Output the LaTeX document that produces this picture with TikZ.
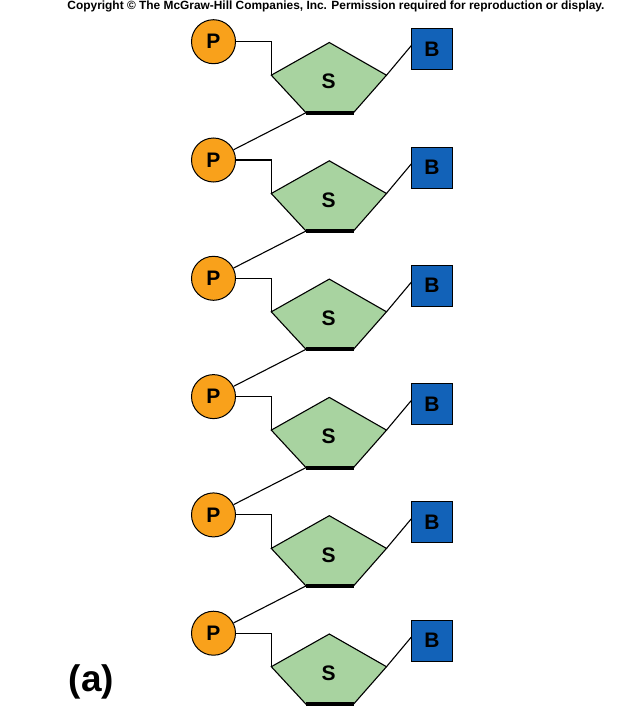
\documentclass[tikz,border=0pt]{standalone}
\usepackage{fontspec}
\setmainfont{Liberation Sans}
\usepackage{graphicx}
\definecolor{porange}{HTML}{F9A11B}
\definecolor{sgreen}{HTML}{A8D3A0}
\definecolor{bblue}{HTML}{1262B8}
\begin{document}
\begin{tikzpicture}[x=1pt,y=-1pt,
  phos/.style={circle,draw=black,line width=1pt,fill=porange,minimum size=44pt,inner sep=0pt,font=\fontsize{21}{21}\selectfont\bfseries},
  base/.style={rectangle,draw=black,line width=0.6pt,fill=bblue,minimum size=41pt,inner sep=0pt,font=\fontsize{21}{21}\selectfont\bfseries},
  sugartext/.style={inner sep=0pt,font=\fontsize{21}{21}\selectfont\bfseries},
  link/.style={line width=1.1pt,black},
  sugaredge/.style={draw=black,line width=1.1pt,fill=sgreen,line join=miter},
  thickedge/.style={line width=4pt,black}]
\useasboundingbox (0,0) rectangle (629,712);
\node[anchor=north,inner sep=0pt] (copy) at (336,1) {\resizebox{537pt}{!}{\fontsize{10}{12}\selectfont\bfseries Copyright \textcopyright\ The McGraw-Hill Companies, Inc. Permission required for reproduction or display.}};
\foreach \i in {0,...,5}{
  \pgfmathsetmacro{\py}{41.7+118.3*\i}
  \node[phos] (P\i) at (213.5,\py) {P};
  \node[base] (B\i) at (432,\py+7.3) {B};
  \coordinate (Stop\i) at (329.3,\py+0.8);
  \coordinate (Sl\i) at (271.3,\py+33.5);
  \coordinate (Sr\i) at (386.5,\py+33.5);
  \coordinate (Sbl\i) at (306,\py+71);
  \coordinate (Sbr\i) at (353.5,\py+71);
  \filldraw[sugaredge] (Stop\i) -- (Sr\i) -- (Sbr\i) -- (Sbl\i) -- (Sl\i) -- cycle;
  \draw[thickedge] (Sbl\i) -- (Sbr\i);
  \node[sugartext] (S\i) at (328.5,\py+40) {S};
  \draw[link] (P\i.east) -| (Sl\i);
  \draw[link] (Sr\i) -- (B\i.west |- 0,\py+4);
}
\foreach \i/\j in {0/1,1/2,2/3,3/4,4/5}{
  \draw[link] (Sbl\i) -- (P\j);
}
\node[inner sep=0pt,font=\fontsize{37}{37}\selectfont\bfseries] (lab) at (91.5,682) {(a)};
\end{tikzpicture}
\end{document}
